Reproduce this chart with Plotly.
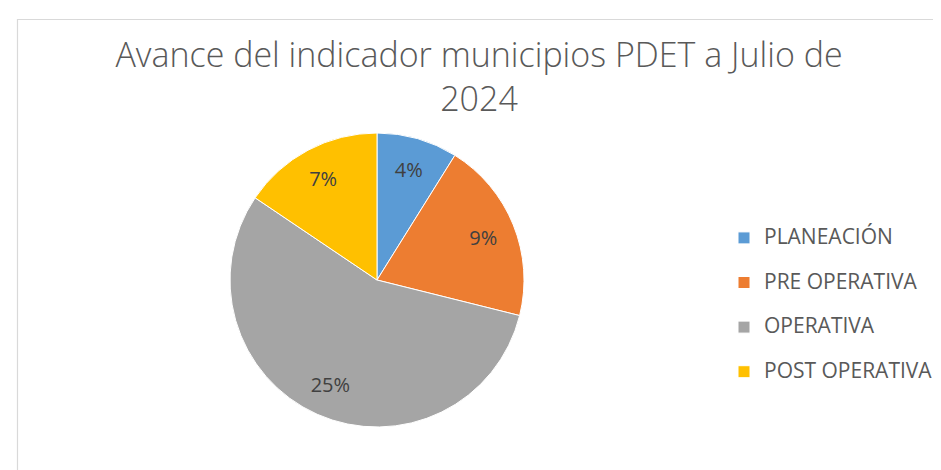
import plotly.graph_objects as go

categories = ["PLANEACIÓN", "PRE OPERATIVA", "OPERATIVA", "POST OPERATIVA"]
values = [4, 9, 25, 7]
colors = ["#5B9BD5", "#ED7D31", "#A5A5A5", "#FFC000"]
title_text = "Avance del indicador municipios PDET a Julio de<br>2024"

W, H = 941, 470
cx, cy, r = 369, 272, 147
dom = dict(x=[(cx - r) / W, (cx + r) / W], y=[1 - (cy + r) / H, 1 - (cy - r) / H])

legend_labels = [f"<span style='font-size:21px'>{c}</span><br> " for c in categories]

fig = go.Figure()
fig.add_trace(go.Pie(
    labels=legend_labels,
    values=values,
    textinfo="none",
    marker=dict(colors=colors, line=dict(color="white", width=1)),
    sort=False, direction="clockwise", rotation=0,
    hoverinfo="skip", domain=dom,
))
fig.add_trace(go.Pie(
    labels=legend_labels,
    values=values,
    text=[f"{v}%" for v in values],
    textinfo="text",
    textposition="inside",
    insidetextorientation="horizontal",
    textfont=dict(family="Open Sans", size=20, color="#404040"),
    marker=dict(colors=["rgba(0,0,0,0)"] * len(values), line=dict(width=0)),
    hole=0.56,
    sort=False, direction="clockwise", rotation=0,
    hoverinfo="skip", domain=dom, showlegend=False,
))

fig.update_layout(
    width=W, height=H,
    margin=dict(l=0, r=0, t=0, b=0),
    paper_bgcolor="white",
    title=dict(text=title_text, x=471 / W, xanchor="center", y=1 - 59 / H, yanchor="top",
               font=dict(family="Open Sans", size=34, color="#595959", weight=300)),
    legend=dict(x=716 / W, xanchor="left", y=1 - 213 / H, yanchor="top", valign="top",
                font=dict(family="Open Sans", size=16, color="#595959"),
                bgcolor="rgba(0,0,0,0)"),
    shapes=[dict(type="rect", xref="paper", yref="paper", x0=9.5 / W, x1=1.02,
                 y0=-0.02, y1=1 - 11.5 / H, line=dict(color="#D9D9D9", width=1.2))],
)

fig.write_html("out.html")
